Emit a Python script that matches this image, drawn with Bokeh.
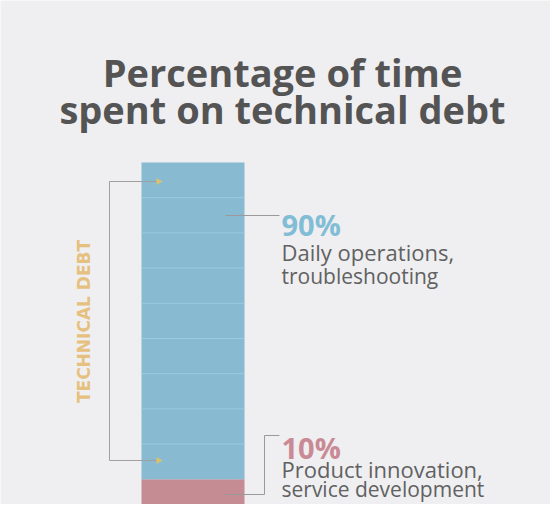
from bokeh.plotting import figure
from bokeh.models import Range1d
from bokeh.core.properties import value
from bokeh.embed import file_html
from bokeh.resources import INLINE
import numpy as np
import math

# ---- data ----
segments = ["Product innovation, service development", "Daily operations, troubleshooting"]
shares = [10, 90]
pct_labels = ["10%", "90%"]
desc_line1 = ["Product innovation,", "Daily operations,"]
desc_line2 = ["service development", "troubleshooting"]
bracket_label = "TECHNICAL DEBT"
title_lines = ["Percentage of time", "spent on technical debt"]

BG = "#efeff1"
BLUE = "#88bad2"
RED = "#c68c94"
PCT_COLORS = ["#c98a96", "#82bdd6"]
TEXT = "#616161"
TITLE = "#545454"
GOLD = "#e6c07e"

W, H = 550, 504
PX_PER_PCT = 3.52
ZERO_PAGE_Y = 522.0

def fx(px):
    return px - 8.0

def fy(py):
    return (ZERO_PAGE_Y - py) / PX_PER_PCT

p = figure(width=W, height=H, output_backend="svg", toolbar_location=None,
           x_range=Range1d(0, W), y_range=Range1d(fy(512), fy(8)),
           min_border=0, background_fill_color=BG, border_fill_color=BG)
p.outline_line_color = None
p.axis.visible = False
p.grid.visible = False

# stacked bar
tops = np.cumsum(shares)
bottoms = tops - np.array(shares)
bar_x = fx(200.5)
p.vbar(x=[bar_x, bar_x], width=103, bottom=bottoms.tolist(), top=tops.tolist(),
       fill_color=[RED, BLUE], line_color=None)

# faint divisions inside the blue segment
for lvl in np.arange(shares[0] + 10, tops[-1], 10):
    p.line([bar_x - 51.5, bar_x + 51.5], [lvl, lvl], line_color="#9ccae0", line_width=1)

# bracket
bx = fx(117)
yt, yb = fy(189), fy(468)
p.line([fx(164), bx, bx, fx(164)], [yt, yt, yb, yb], line_color="#a0a0a0", line_width=1)
p.scatter(x=[fx(166), fx(166)], y=[yt, yb], marker="triangle", size=7,
          angle=-math.pi / 2, fill_color="#d9c16e", line_color=None)
p.text(x=[fx(91)], y=[fy(329)], text=[bracket_label], angle=math.pi / 2,
       text_align="center", text_baseline="middle",
       text_font=value("DejaVu Sans"), text_font_style="bold",
       text_font_size="17px", text_color=GOLD)

# leader lines
p.line([fx(233), fx(287)], [fy(223), fy(223)], line_color="#9a9a9a", line_width=1)
p.line([fx(233), fx(272), fx(272), fx(287)], [fy(502), fy(502), fy(443), fy(443)],
       line_color="#9a9a9a", line_width=1)

# labels
lx = fx(289)
p.text(x=[lx, lx], y=[fy(455), fy(232)], text=pct_labels, text_color=PCT_COLORS,
       text_font=value("Open Sans"), text_font_style="bold", text_font_size="29px",
       text_baseline="alphabetic", text_align="left")
p.text(x=[lx, lx], y=[fy(476), fy(259)], text=desc_line1, text_color=TEXT,
       text_font=value("Open Sans"), text_font_size="22px",
       text_baseline="alphabetic", text_align="left")
p.text(x=[lx, lx], y=[fy(496), fy(283)], text=desc_line2, text_color=TEXT,
       text_font=value("Open Sans"), text_font_size="21px",
       text_baseline="alphabetic", text_align="left")

# title
p.text(x=[fx(290), fx(290)], y=[fy(79), fy(116)], text=title_lines, text_color=TITLE,
       text_font=value("Open Sans"), text_font_style="bold", text_font_size="38px",
       text_baseline="alphabetic", text_align="center")

open("out.html", "w").write(file_html(p, INLINE))
